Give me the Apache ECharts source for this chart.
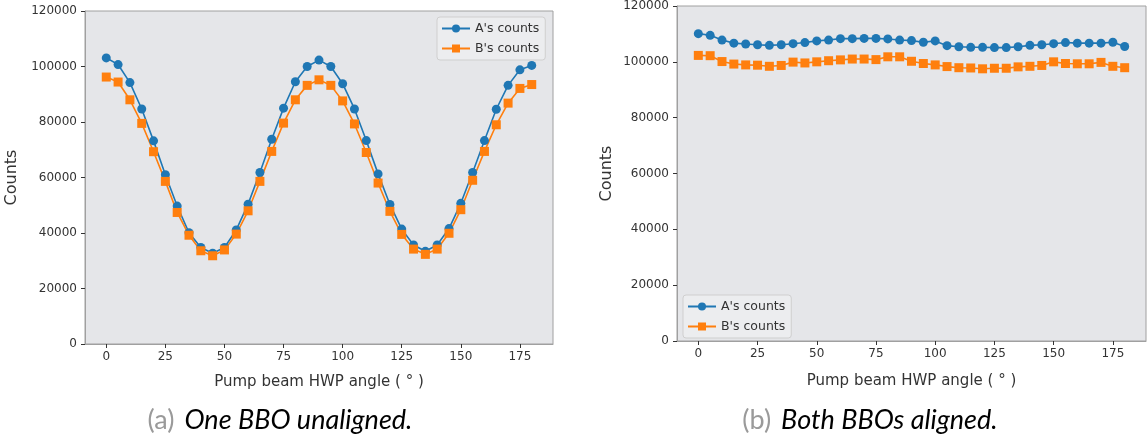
<!DOCTYPE html>
<html>
<head>
<meta charset="utf-8">
<script src="https://cdn.jsdelivr.net/npm/echarts@6/dist/echarts.min.js"></script>
<style>
html,body{margin:0;padding:0;background:#fff;}
#c{width:1148px;height:437px;}
</style>
</head>
<body>
<div id="c"></div>
<script>
// Pump beam HWP angle (degrees)
const angles = [0,5,10,15,20,25,30,35,40,45,50,55,60,65,70,75,80,85,90,95,100,105,110,115,120,125,130,135,140,145,150,155,160,165,170,175,180];

// (a) One BBO unaligned
const unalignedA = [103100,100700,94200,84700,73200,61000,49700,40100,34800,32700,34800,41100,50400,61800,73800,85000,94500,100000,102300,100000,93800,84700,73300,61300,50300,41400,35700,33400,35700,41600,50700,61800,73300,84600,93200,98800,100400];
const unalignedB = [96200,94400,88000,79500,69300,58600,47400,39200,33600,31800,33900,39600,48000,58600,69400,79600,88000,93200,95200,93200,87600,79300,69000,58000,47800,39500,34200,32300,34200,39900,48400,59000,69400,79000,86800,92100,93500];

// (b) Both BBOs aligned
const alignedA = [110100,109500,107800,106700,106400,106100,105900,106100,106500,106900,107500,107800,108300,108300,108400,108400,108200,107800,107600,107000,107500,105800,105400,105200,105200,105100,105100,105400,105900,106100,106500,106900,106700,106700,106700,107000,105500];
const alignedB = [102300,102200,100100,99200,98900,98800,98400,98700,99900,99600,100000,100400,100700,101000,101000,100800,101800,101800,100200,99400,98900,98300,97900,97800,97500,97700,97700,98200,98400,98700,100000,99400,99300,99300,99800,98400,97900];

const xTicks = [0,25,50,75,100,125,150,175];
const seriesNames = ["A's counts", "B's counts"];
const xTitle = 'Pump beam HWP angle ( \u00b0 )';
const yTitle = 'Counts';
const captions = [['(a)', 'One BBO unaligned.'], ['(b)', 'Both BBOs aligned.']];

const BLUE = '#1f77b4', ORANGE = '#ff7f0e';
const FONT = 'DejaVu Sans';

function pairs(vals){ return angles.map((a,i)=>[a, vals[i]]); }

function xAxis(gi, gap){
  return {
    type:'value', gridIndex:gi, min:-9, max:189,
    axisLine:{show:true, onZero:false, lineStyle:{color:'#a0a0a0', width:1}},
    axisTick:{show:true, customValues:xTicks, length:4, lineStyle:{color:'#333'}},
    axisLabel:{customValues:xTicks, fontSize:12, color:'#333', fontFamily:FONT, margin:7},
    splitLine:{show:false},
    name:xTitle, nameLocation:'middle', nameGap:gap,
    nameTextStyle:{fontSize:15, color:'#333', fontFamily:FONT}
  };
}
function yAxis(gi, gap){
  return {
    type:'value', gridIndex:gi, min:0, max:120000, interval:20000,
    axisLine:{show:true, onZero:false, lineStyle:{color:'#a0a0a0', width:1}},
    axisTick:{show:true, length:4, lineStyle:{color:'#333'}},
    axisLabel:{fontSize:12, color:'#333', fontFamily:FONT, margin:8, formatter:(v)=>String(v)},
    splitLine:{show:false},
    name:yTitle, nameLocation:'middle', nameGap:gap,
    nameTextStyle:{fontSize:16, color:'#333', fontFamily:FONT}
  };
}
function line(name, gi, vals, color, symbol){
  return {
    type:'line', name:name, xAxisIndex:gi, yAxisIndex:gi,
    data:pairs(vals), symbol:symbol, symbolSize:9,
    lineStyle:{color:color, width:1.6}, itemStyle:{color:color},
    animation:false, z:3
  };
}
function legend(left, top){
  return {
    orient:'vertical', left:left, top:top,
    data:seriesNames,
    itemWidth:28, itemHeight:10, itemGap:7,
    backgroundColor:'rgba(236,237,239,0.9)', borderColor:'#cfcfcf', borderWidth:1, borderRadius:3,
    padding:[5,6,5,4],
    textStyle:{fontSize:12.5, color:'#333', fontFamily:FONT}
  };
}
function caption(cx, cy, c){
  return {
    type:'text', x:cx, y:cy,
    style:{
      text:'{g|'+c[0]+'}{i|'+c[1]+'}', align:'center', verticalAlign:'middle',
      rich:{
        g:{fontSize:27, fill:'#9a9a9a', fontFamily:'Lato', padding:[0,10,0,0]},
        i:{fontSize:27, fill:'#000', fontStyle:'italic', fontFamily:'Lato'}
      }
    }
  };
}

const chart = echarts.init(document.getElementById('c'), null, {renderer:'canvas'});
chart.setOption({
  animation:false,
  backgroundColor:'#fff',
  grid:[
    {left:85, top:11, width:468, height:333, show:true, backgroundColor:'#e5e6e9', borderColor:'#a0a0a0', borderWidth:1},
    {left:677, top:6, width:469, height:335, show:true, backgroundColor:'#e5e6e9', borderColor:'#a0a0a0', borderWidth:1}
  ],
  xAxis:[xAxis(0, 31), xAxis(1, 33)],
  yAxis:[yAxis(0, 65), yAxis(1, 62)],
  legend:[legend(437, 17), legend(683, 295)],
  series:[
    line(seriesNames[0], 0, unalignedA, BLUE, 'circle'),
    line(seriesNames[1], 0, unalignedB, ORANGE, 'rect'),
    line(seriesNames[0], 1, alignedA, BLUE, 'circle'),
    line(seriesNames[1], 1, alignedB, ORANGE, 'rect')
  ],
  graphic:[caption(280, 420, captions[0]), caption(870, 420, captions[1])]
});
</script>
</body>
</html>
